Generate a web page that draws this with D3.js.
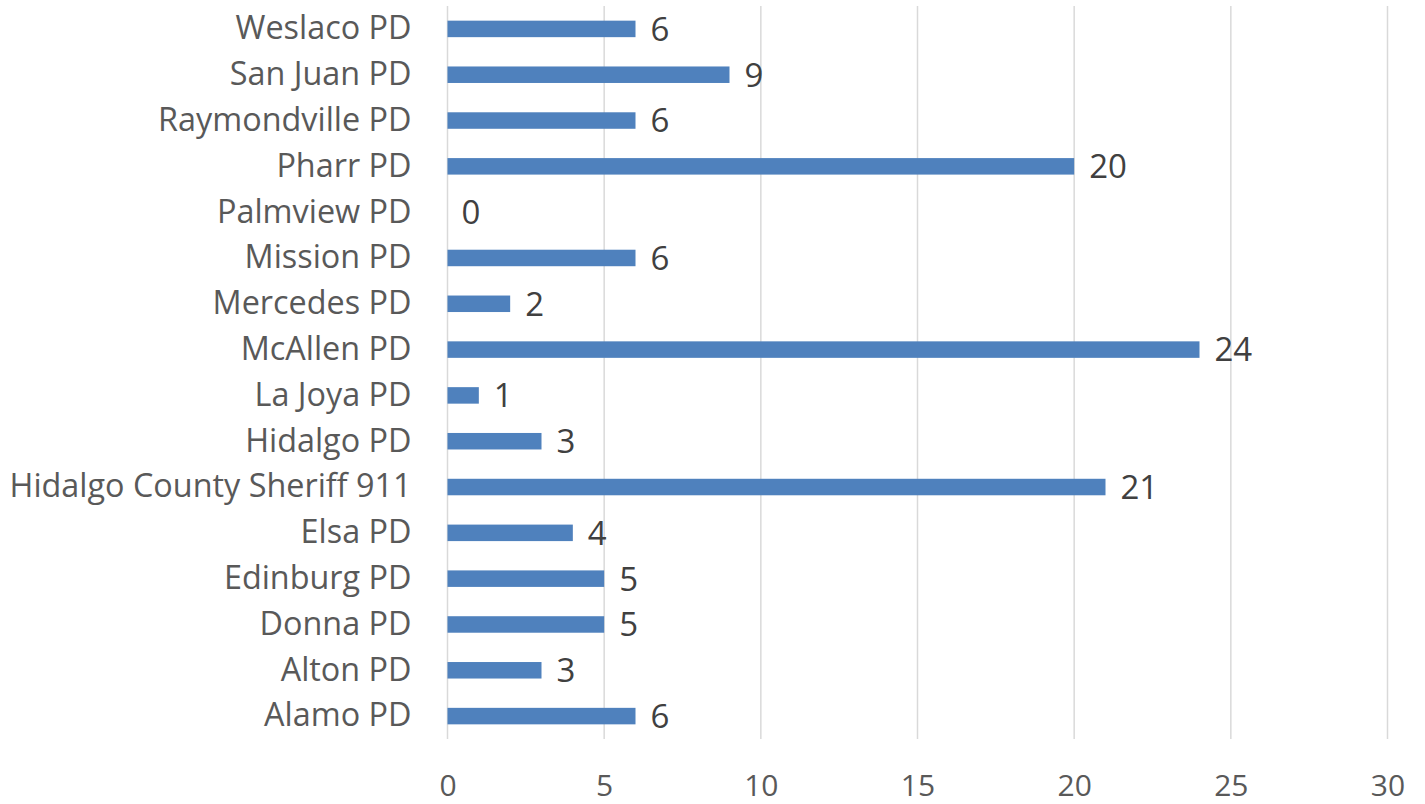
<!DOCTYPE html>
<html><head><meta charset="utf-8">
<script src="https://cdn.jsdelivr.net/npm/d3@7"></script>
<style>body{margin:0;background:#fff}svg{display:block}</style>
</head><body>
<svg id="c" width="1425" height="804"></svg>
<script>
const categories = ["Weslaco PD","San Juan PD","Raymondville PD","Pharr PD","Palmview PD","Mission PD","Mercedes PD","McAllen PD","La Joya PD","Hidalgo PD","Hidalgo County Sheriff 911","Elsa PD","Edinburg PD","Donna PD","Alton PD","Alamo PD"];
const values = [6,9,6,20,0,6,2,24,1,3,21,4,5,5,3,6];
const xTicks = [0,5,10,15,20,25,30];

const svg = d3.select("#c");
const pL = 447.5, pR = 1387.5, pT = 6, pB = 739;
const x = d3.scaleLinear().domain([0,30]).range([pL,pR]);
const y = d3.scaleBand().domain(categories).range([pT,pB]).paddingInner(0.64).paddingOuter(0.32);
const font = "'Open Sans', sans-serif";

// gridlines
svg.append("g").selectAll("line").data(xTicks).join("line")
  .attr("x1", d=>x(d)).attr("x2", d=>x(d)).attr("y1", pT).attr("y2", pB)
  .attr("stroke", "#d9d9d9").attr("stroke-width", 1.5);

// axis labels
const xAxis = d3.axisBottom(x).tickValues(xTicks).tickSize(0).tickPadding(0);
const ga = svg.append("g").attr("transform", `translate(0,${pB})`).call(xAxis);
ga.select(".domain").remove();
ga.selectAll("text").attr("font-family", font).attr("font-size", 30).attr("fill", "#595959")
  .attr("dy", null).attr("y", 57);

// bars
const bh = 16.5;
svg.append("g").selectAll("rect").data(values).join("rect")
  .attr("x", x(0)).attr("width", d=>x(d)-x(0))
  .attr("y", (d,i)=>y(categories[i]) + y.bandwidth()/2 - bh/2).attr("height", bh)
  .attr("fill", "#4f81bd");

// category labels
const yAxis = d3.axisLeft(y).tickSize(0).tickPadding(36);
const gy = svg.append("g").attr("transform", `translate(${pL},0)`).call(yAxis);
gy.select(".domain").remove();
gy.selectAll("text").attr("font-family", font).attr("font-size", 31).attr("fill", "#595959");

// fit longest label to the reference width
let maxW = 0;
gy.selectAll("text").each(function(){ maxW = Math.max(maxW, this.getComputedTextLength()); });
if (maxW > 0) gy.selectAll("text").attr("font-size", Math.min(34, 31*402/maxW));

// data labels
svg.append("g").selectAll("text").data(values).join("text")
  .attr("x", d=>x(d) + (d===0 ? 14 : 15))
  .attr("y", (d,i)=>y(categories[i]) + y.bandwidth()/2)
  .attr("dy", "0.36em")
  .attr("font-family", font).attr("font-size", 33).attr("fill", "#404040")
  .text(d=>d);
</script>
</body></html>
